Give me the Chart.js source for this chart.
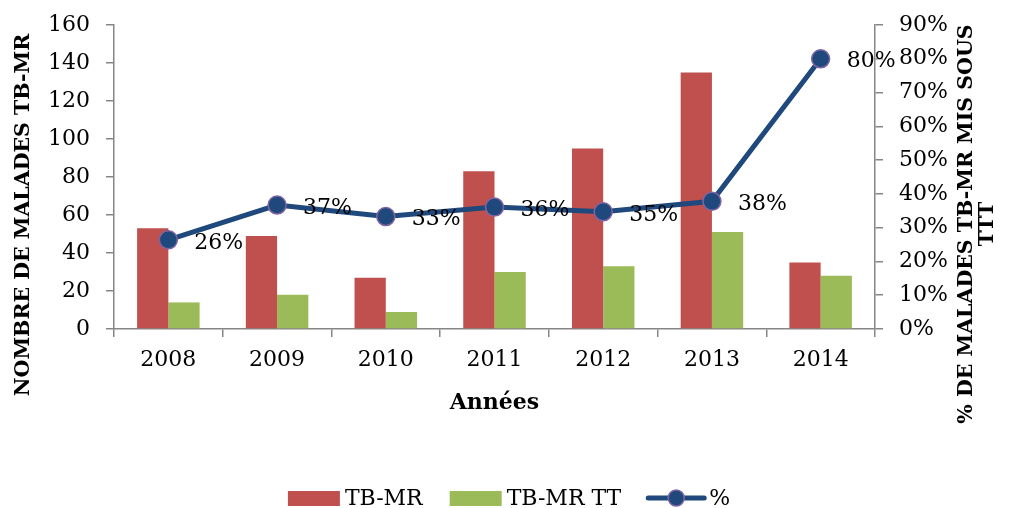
<!DOCTYPE html>
<html>
<head>
<meta charset="utf-8">
<script src="https://cdn.jsdelivr.net/npm/chart.js@4.4.1/dist/chart.umd.min.js"></script>
<style>
  html, body { margin: 0; padding: 0; background: #fff; }
  #wrap { width: 1018px; height: 508px; position: relative; }
</style>
</head>
<body>
<div id="wrap"><canvas id="tbChart"></canvas></div>
<script>
const annees = ["2008", "2009", "2010", "2011", "2012", "2013", "2014"];
const tbMR = [53, 49, 27, 83, 95, 135, 35];
const tbMRTT = [14, 18, 9, 30, 33, 51, 28];
const pourcentage = [0.264, 0.367, 0.333, 0.361, 0.347, 0.378, 0.80];
const etiquettes = ["26%", "37%", "33%", "36%", "35%", "38%", "80%"];

const rouge = "#C0504D";
const vert = "#9BBB59";
const bleu = "#1F497D";
const violet = "#8064A2";
const gris = "#868686";

Chart.defaults.font.family = "'DejaVu Serif', serif";
Chart.defaults.font.size = 22;
Chart.defaults.color = "#000";

// etiquettes des points, titres des axes y et legende
const decorPlugin = {
  id: "decor",
  afterDatasetsDraw(chart) {
    const ctx = chart.ctx;
    const meta = chart.getDatasetMeta(2);
    ctx.save();
    ctx.font = "22px 'DejaVu Serif'";
    ctx.fillStyle = "#000";
    ctx.textAlign = "left";
    ctx.textBaseline = "middle";
    meta.data.forEach((pt, i) => {
      ctx.fillText(etiquettes[i], pt.x + 26, pt.y + 3);
    });
    ctx.restore();
  },
  afterDraw(chart) {
    const ctx = chart.ctx;
    const area = chart.chartArea;
    ctx.save();
    ctx.font = "bold 20.5px 'DejaVu Serif'";
    ctx.fillStyle = "#000";
    ctx.textAlign = "center";
    ctx.textBaseline = "middle";

    ctx.save();
    ctx.translate(24, area.top + 190);
    ctx.rotate(-Math.PI / 2);
    ctx.fillText("NOMBRE DE MALADES TB-MR", 0, 0);
    ctx.restore();

    ctx.save();
    ctx.translate(967, area.top + 199);
    ctx.rotate(-Math.PI / 2);
    ctx.fillText("% DE MALADES TB-MR MIS SOUS", 0, 0);
    ctx.fillText("TTT", 0, 21);
    ctx.restore();

    // legende
    ctx.font = "22px 'DejaVu Serif'";
    ctx.textAlign = "left";
    const y = chart.height - 10;
    const items = [
      { txt: "TB-MR", type: "box", color: rouge },
      { txt: "TB-MR TT", type: "box", color: vert },
      { txt: "%", type: "line", color: bleu },
    ];
    const symW = [52, 52, 56];
    let total = 0;
    items.forEach((it, i) => {
      total += symW[i] + 5 + ctx.measureText(it.txt).width;
      if (i < items.length - 1) total += 27;
    });
    let x = chart.width / 2 - total / 2;
    items.forEach((it, i) => {
      if (it.type === "box") {
        ctx.fillStyle = it.color;
        ctx.fillRect(x, y - 7, symW[i], 15);
      } else {
        ctx.strokeStyle = it.color;
        ctx.lineWidth = 5;
        ctx.lineCap = "round";
        ctx.beginPath();
        ctx.moveTo(x, y);
        ctx.lineTo(x + symW[i], y);
        ctx.stroke();
        ctx.beginPath();
        ctx.arc(x + symW[i] / 2, y, 8, 0, Math.PI * 2);
        ctx.fillStyle = it.color;
        ctx.fill();
        ctx.lineWidth = 1.5;
        ctx.strokeStyle = violet;
        ctx.stroke();
      }
      x += symW[i] + 5;
      ctx.fillStyle = "#000";
      ctx.fillText(it.txt, x, y + 1);
      x += ctx.measureText(it.txt).width + 27;
    });
    ctx.restore();
  },
};

const axeGrid = {
  display: true,
  drawOnChartArea: false,
  drawTicks: true,
  tickLength: 8,
  color: gris,
  lineWidth: 1.5,
};

function sansPadding(scale) {
  scale.paddingTop = 0;
  scale.paddingBottom = 0;
  scale.paddingLeft = 0;
  scale.paddingRight = 0;
}

new Chart(document.getElementById("tbChart").getContext("2d"), {
  type: "bar",
  data: {
    labels: annees,
    datasets: [
      {
        label: "TB-MR",
        data: tbMR,
        backgroundColor: rouge,
        categoryPercentage: 0.575,
        barPercentage: 1.0,
        yAxisID: "y",
        order: 2,
      },
      {
        label: "TB-MR TT",
        data: tbMRTT,
        backgroundColor: vert,
        categoryPercentage: 0.575,
        barPercentage: 1.0,
        yAxisID: "y",
        order: 2,
      },
      {
        type: "line",
        label: "%",
        data: pourcentage,
        borderColor: bleu,
        borderWidth: 5,
        backgroundColor: bleu,
        pointRadius: 9,
        pointBorderColor: violet,
        pointBorderWidth: 1.5,
        pointBackgroundColor: bleu,
        tension: 0,
        yAxisID: "y1",
        order: 1,
      },
    ],
  },
  options: {
    responsive: true,
    maintainAspectRatio: false,
    animation: false,
    layout: { padding: { top: 25, bottom: 40, left: 0, right: 0 } },
    plugins: {
      legend: { display: false },
      tooltip: { enabled: false },
    },
    scales: {
      x: {
        grid: axeGrid,
        border: { color: gris, width: 1.5 },
        ticks: { padding: 10 },
        title: {
          display: true,
          text: "Années",
          font: { weight: "bold", size: 22 },
          padding: { top: 0, bottom: 52 },
        },
        afterFit(scale) {
          sansPadding(scale);
          scale.height = 139;
        },
      },
      y: {
        position: "left",
        min: 0,
        max: 160,
        ticks: { stepSize: 20, padding: 16 },
        grid: axeGrid,
        border: { color: gris, width: 1.5 },
        afterFit(scale) {
          sansPadding(scale);
          scale.width = 114;
        },
      },
      y1: {
        position: "right",
        min: 0,
        max: 0.9,
        ticks: {
          stepSize: 0.1,
          padding: 16,
          callback: (v) => Math.round(v * 100) + "%",
        },
        grid: axeGrid,
        border: { color: gris, width: 1.5 },
        afterFit(scale) {
          sansPadding(scale);
          scale.width = 143;
        },
      },
    },
  },
  plugins: [decorPlugin],
});
</script>
</body>
</html>
